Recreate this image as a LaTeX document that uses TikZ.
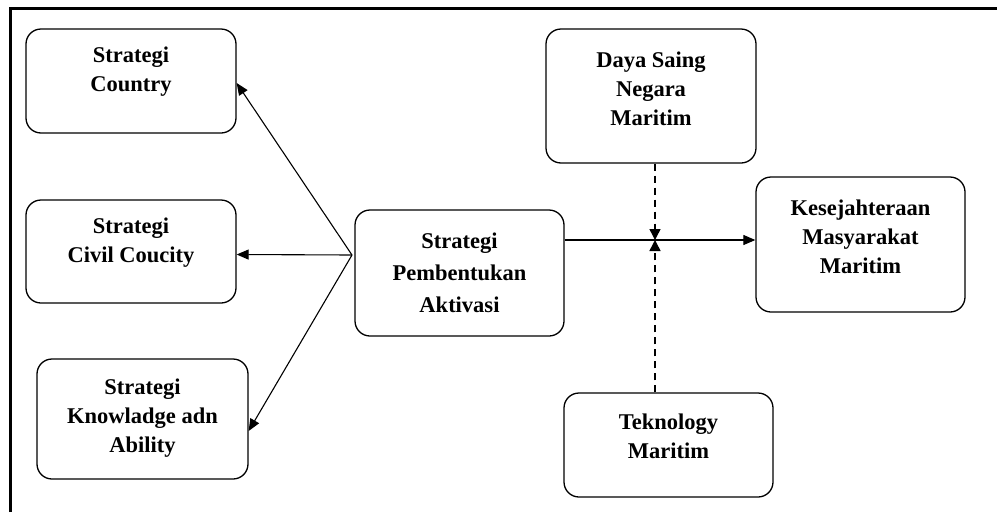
\documentclass[tikz,border=0pt]{standalone}
\usepackage{fontspec}
\setmainfont{Liberation Serif}
\usetikzlibrary{arrows.meta,calc}
\begin{document}
\begin{tikzpicture}[x=1pt,y=-1pt,
  box/.style={draw,line width=1.3pt,rounded corners=15pt,inner sep=0pt},
  txt/.style={align=center,font=\fontsize{22.5}{29}\selectfont\bfseries,inner sep=0pt},
  arr/.style={line width=1.1pt,-{Triangle[length=12pt,width=10pt]}},
  darr/.style={line width=1.5pt,dash pattern=on 7pt off 5pt,-{Triangle[length=11pt,width=11pt]}}]
\useasboundingbox (0,0) rectangle (997,512);
% frame
\draw[line width=3pt] (10,512) -- (10,8) -- (997,8);
% boxes
\node[box,minimum width=210pt,minimum height=104pt] (C) at (131,81) {};
\node[box,minimum width=210pt,minimum height=103pt] (V) at (131,251.5) {};
\node[box,minimum width=211pt,minimum height=120pt] (K) at (142.5,419) {};
\node[box,minimum width=209pt,minimum height=126pt] (P) at (459.5,273) {};
\node[box,minimum width=210pt,minimum height=134pt] (D) at (651,96) {};
\node[box,minimum width=209pt,minimum height=104pt] (T) at (668.5,445) {};
\node[box,minimum width=209pt,minimum height=135pt] (S) at (860.5,244.5) {};
% texts
\node[txt] (tC) at (131,72) {Strategi\\Country};
\node[txt] (tV) at (131,243) {Strategi\\Civil Coucity};
\node[txt] (tK) at (142.5,418) {Strategi\\Knowladge adn\\Ability};
\node[txt,font=\fontsize{22.5}{32}\selectfont\bfseries] (tP) at (459.5,273) {Strategi\\Pembentukan\\Aktivasi};
\node[txt] (tD) at (651,89) {Daya Saing\\Negara\\Maritim};
\node[txt] (tT) at (668.5,436) {Teknology\\Maritim};
\node[txt] (tS) at (860.5,237) {Kesejahteraan\\Masyarakat\\Maritim};
% connectors
\coordinate (fan) at (352,255);
\coordinate (J) at (655,240);
\draw[arr] (fan) -- ([yshift=-2pt]C.east);
\draw[arr] (fan) -- ([yshift=-3pt]V.east);
\draw[arr] (fan) -- ([yshift=-12pt]K.east);
\draw[arr] ([yshift=33pt]P.east) -- ([yshift=4.5pt]S.west);
\draw[darr] (D.south -| J) -- (J);
\draw[darr] (T.north -| J) -- (J);
\end{tikzpicture}
\end{document}
